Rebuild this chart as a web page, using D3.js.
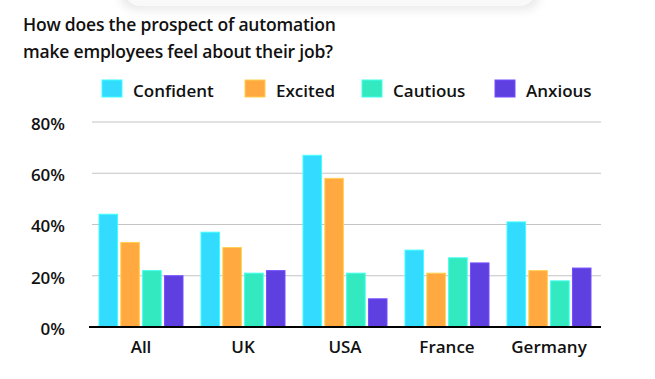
<!DOCTYPE html>
<html>
<head>
<meta charset="utf-8">
<script src="https://cdn.jsdelivr.net/npm/d3@7"></script>
<style>
  html, body { margin: 0; padding: 0; background: #fff; }
  svg { display: block; font-family: "Open Sans", sans-serif; }
</style>
</head>
<body>
<svg id="chart" width="655" height="379"></svg>
<script>
const titleLines = ["How does the prospect of automation", "make employees feel about their job?"];
const countries = ["All", "UK", "USA", "France", "Germany"];
const seriesNames = ["Confident", "Excited", "Cautious", "Anxious"];
const confident = [44, 37, 67, 30, 41];
const excited = [33, 31, 58, 21, 22];
const cautious = [22, 21, 21, 27, 18];
const anxious = [20, 22, 11, 25, 23];
const yTicks = [0, 20, 40, 60, 80];
const colors = ["#33DBFF", "#FFA940", "#33EAC0", "#5E3FE0"];

const seriesValues = [confident, excited, cautious, anxious];
const FONT = "'Open Sans', sans-serif";

const svg = d3.select("#chart");

// faint card shadow at top
const defs = svg.append("defs");
defs.append("filter").attr("id", "blur").attr("x", "-20%").attr("y", "-50%").attr("width", "140%").attr("height", "200%")
  .append("feGaussianBlur").attr("stdDeviation", 5);
svg.append("rect").attr("x", 120).attr("y", -40).attr("width", 420).attr("height", 50)
  .attr("rx", 16).attr("fill", "#e9e9e9").attr("filter", "url(#blur)");
svg.append("rect").attr("x", 124).attr("y", -40).attr("width", 412).attr("height", 46)
  .attr("rx", 16).attr("fill", "#f9f9f9");

// title
svg.append("g").selectAll("text").data(titleLines).join("text")
  .attr("x", 23).attr("y", (d, i) => 31 + i * 27)
  .attr("font-family", FONT).attr("font-size", 17.5).attr("font-weight", 600).attr("fill", "#111")
  .attr("letter-spacing", -0.2)
  .text(d => d);

// scales
const x0 = d3.scaleBand().domain(countries).range([90, 600]).paddingInner(0).paddingOuter(0);
const x1 = d3.scaleBand().domain(seriesNames).range([9, 93]).paddingInner(0.15);
const y = d3.scaleLinear().domain([0, 80]).range([327, 122]);

// gridlines
svg.append("g").selectAll("line").data(yTicks.filter(t => t > 0)).join("line")
  .attr("x1", 92).attr("x2", 601)
  .attr("y1", d => y(d)).attr("y2", d => y(d))
  .attr("stroke", "#c4c4c4").attr("stroke-width", 1.2);

// y axis labels
const yAxis = d3.axisLeft(y).tickValues(yTicks).tickFormat(d => d + "%").tickSize(0).tickPadding(0);
const ya = svg.append("g").attr("transform", "translate(65,2)").call(yAxis);
ya.select(".domain").remove();
ya.selectAll("text").attr("font-size", 17).attr("font-weight", 600).attr("fill", "#111")
  .attr("font-family", FONT);

// bars
const groups = svg.append("g").selectAll("g").data(countries).join("g")
  .attr("transform", d => `translate(${x0(d)},0)`);
groups.selectAll("rect").data((c, ci) => seriesNames.map((s, si) => ({ s, si, v: seriesValues[si][ci] })))
  .join("rect")
  .attr("x", d => x1(d.s))
  .attr("width", x1.bandwidth())
  .attr("y", d => y(d.v))
  .attr("height", d => y(0) - y(d.v))
  .attr("fill", d => colors[d.si])
  .attr("stroke", d => d3.color(colors[d.si]).brighter(0.6))
  .attr("stroke-width", 1);

// baseline
svg.append("line").attr("x1", 89).attr("x2", 601).attr("y1", y(0)).attr("y2", y(0))
  .attr("stroke", "#000").attr("stroke-width", 2.2);

// x axis labels
const xAxis = d3.axisBottom(x0).tickSize(0).tickPadding(0);
const xa = svg.append("g").attr("transform", "translate(0,353)").call(xAxis);
xa.select(".domain").remove();
xa.selectAll("text").attr("dy", 0).attr("font-size", 17).attr("font-weight", 600).attr("fill", "#111")
  .attr("font-family", FONT);

// legend
const legendX = [102, 245, 362, 495];
const leg = svg.append("g").selectAll("g").data(seriesNames).join("g")
  .attr("transform", (d, i) => `translate(${legendX[i]},80)`);
leg.append("rect").attr("width", 20).attr("height", 17)
  .attr("fill", (d, i) => colors[i])
  .attr("stroke", (d, i) => d3.color(colors[i]).brighter(0.6)).attr("stroke-width", 1);
leg.append("text").attr("x", 31).attr("y", 17)
  .attr("font-family", FONT).attr("font-size", 17).attr("font-weight", 600).attr("fill", "#111")
  .text(d => d);
</script>
</body>
</html>
